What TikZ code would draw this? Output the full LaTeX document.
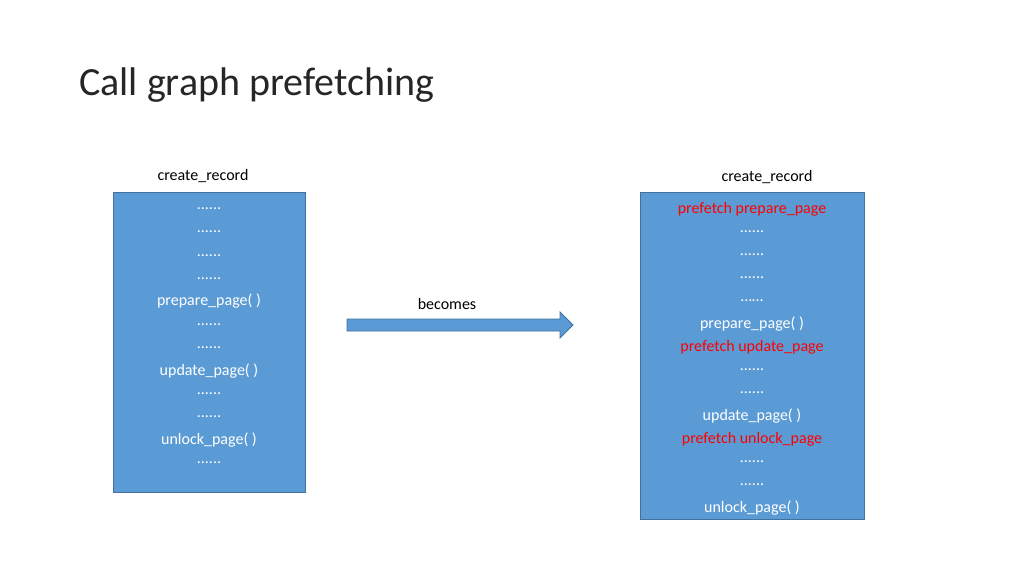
\documentclass[tikz,border=0pt]{standalone}
\usepackage{fontspec}
\setmainfont{Carlito}
\definecolor{boxfill}{HTML}{5B9BD5}
\definecolor{boxline}{HTML}{41719C}
\definecolor{titlec}{HTML}{262626}
\definecolor{redt}{HTML}{FF0000}
\newcommand\dd{......}
\newcommand\ee{……}
\begin{document}
\begin{tikzpicture}[x=1pt,y=-1pt,
  box/.style={draw=boxline,fill=boxfill,line width=0.8pt},
  ln/.style={text=white,font=\fontsize{16}{18}\selectfont,anchor=center,inner sep=0pt},
  rd/.style={ln,text=redt},
  lbl/.style={font=\fontsize{16}{18}\selectfont,text=black,inner sep=0pt}]
\useasboundingbox (0,0) rectangle (1024,576);
\node[anchor=west,font=\fontsize{40}{44}\selectfont,text=titlec,inner sep=0pt] (title) at (79,85) {Call graph prefetching};
\node[lbl] (lh) at (203,176) {create\_record};
\node[lbl] (rh) at (767,177) {create\_record};
\draw[box] (113,192) rectangle (305,492);
\draw[box] (640,192) rectangle (864,519);
\foreach \t [count=\i from 0] in {\dd,\dd,\dd,\dd,prepare\_page( ),\dd,\dd,update\_page( ),\dd,\dd,unlock\_page( ),\dd}
  \node[ln] (l\i) at (209,209+23.1*\i) {\t};
\foreach \t/\s [count=\i from 0] in {prefetch prepare\_page/rd,\dd/ln,\dd/ln,\dd/ln,\ee/ln,prepare\_page( )/ln,prefetch update\_page/rd,\dd/ln,\dd/ln,update\_page( )/ln,prefetch unlock\_page/rd,\dd/ln,\dd/ln,unlock\_page( )/ln}
  \node[\s] (r\i) at (752,209+23*\i) {\t};
\node[lbl] (bec) at (447,304) {becomes};
\draw[box] (347,319) -- (560,319) -- (560,312) -- (573,325) -- (560,338) -- (560,331) -- (347,331) -- cycle;
\end{tikzpicture}
\end{document}
